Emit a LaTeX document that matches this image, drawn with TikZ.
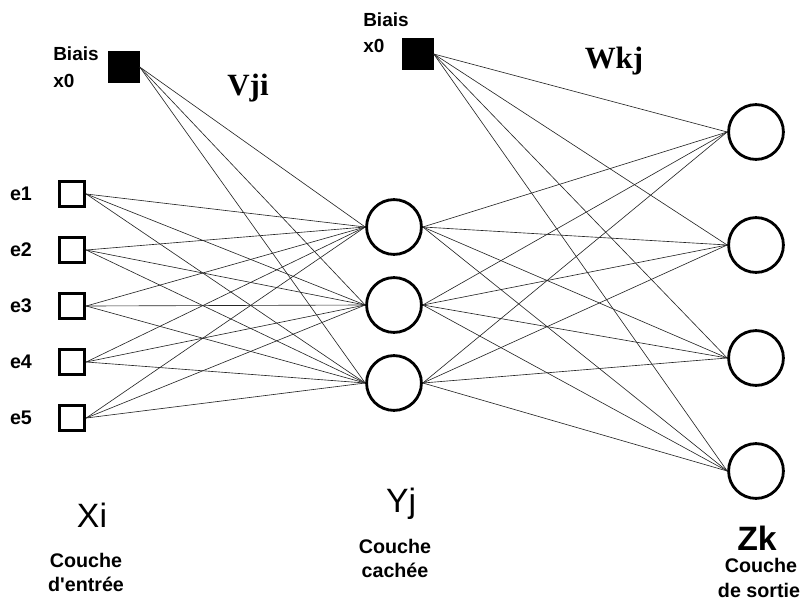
\documentclass[tikz,border=0pt]{standalone}
\usepackage{fontspec}
\setmainfont{Liberation Sans}
\newfontfamily\poidsfont{Liberation Serif}

\tikzset{
  entree/.style={draw, line width=2.2pt, minimum size=18pt, inner sep=0pt},
  biais/.style={draw, fill=black, minimum size=22pt, inner sep=0pt},
  neurone/.style={draw, circle, line width=2pt, minimum size=39pt, inner sep=0pt},
  lien/.style={black!85, line width=0.45pt},
  petit/.style={font=\bfseries\fontsize{13.5}{19}\selectfont, inner sep=0pt},
  legende/.style={font=\bfseries\fontsize{14}{17}\selectfont, inner sep=0pt, anchor=base},
  grand/.style={font=\fontsize{24}{28}\selectfont, inner sep=0pt, anchor=base},
  poids/.style={font=\poidsfont\bfseries\fontsize{22}{26}\selectfont, inner sep=0pt, anchor=base},
}

\begin{document}
\begin{tikzpicture}[x=0.025cm, y=-0.025cm]
  \useasboundingbox (0,0) rectangle (802,612);

  % Biais
  \node[biais] (b1) at (124,67) {};
  \node[petit, anchor=base west] (b1lab) at (53,60) {Biais};
  \node[petit, anchor=base west] (b1x) at (53,87) {x0};
  \node[biais] (b2) at (418,54) {};
  \node[petit, anchor=base west] (b2lab) at (363,26) {Biais};
  \node[petit, anchor=base west] (b2x) at (363,52) {x0};

  % Poids
  \node[poids] (vji) at (248,95) {Vji};
  \node[poids] (wkj) at (614,68) {Wkj};

  % Couche d'entree
  \foreach \i/\y in {1/194, 2/250, 3/306, 4/362, 5/418} {
    \node[entree] (x\i) at (72,\y) {};
    \node[font=\bfseries\fontsize{14}{17}\selectfont, inner sep=0pt] (e\i) at (21,\y) {e\i};
  }

  % Couche cachee
  \foreach \j/\y in {1/227, 2/305, 3/383} {
    \node[neurone] (y\j) at (394,\y) {};
  }

  % Couche de sortie
  \foreach \k/\y in {1/132, 2/245, 3/358, 4/471} {
    \node[neurone] (z\k) at (756,\y) {};
  }

  % Connexions
  \foreach \j in {1,2,3} {
    \draw[lien] (b1.east) -- (y\j.west);
    \foreach \i in {1,...,5}
      \draw[lien] (x\i.east) -- (y\j.west);
  }
  \foreach \k in {1,...,4} {
    \draw[lien] (b2.east) -- (z\k.west);
    \foreach \j in {1,2,3}
      \draw[lien] (y\j.east) -- (z\k.west);
  }

  % Legendes
  \node[grand] (xi) at (92,527) {Xi};
  \node[legende] (cin1) at (86,567) {Couche};
  \node[legende] (cin2) at (86,591) {d\textquotesingle entrée};
  \node[grand] (yj) at (401,512) {Yj};
  \node[legende] (chid1) at (395,553) {Couche};
  \node[legende] (chid2) at (395,577) {cachée};
  \node[grand, font=\bfseries\fontsize{24}{28}\selectfont] (zk) at (757,550) {Zk};
  \node[legende] (cout1) at (761,572) {Couche};
  \node[legende] (cout2) at (759,597) {de sortie};
\end{tikzpicture}
\end{document}
